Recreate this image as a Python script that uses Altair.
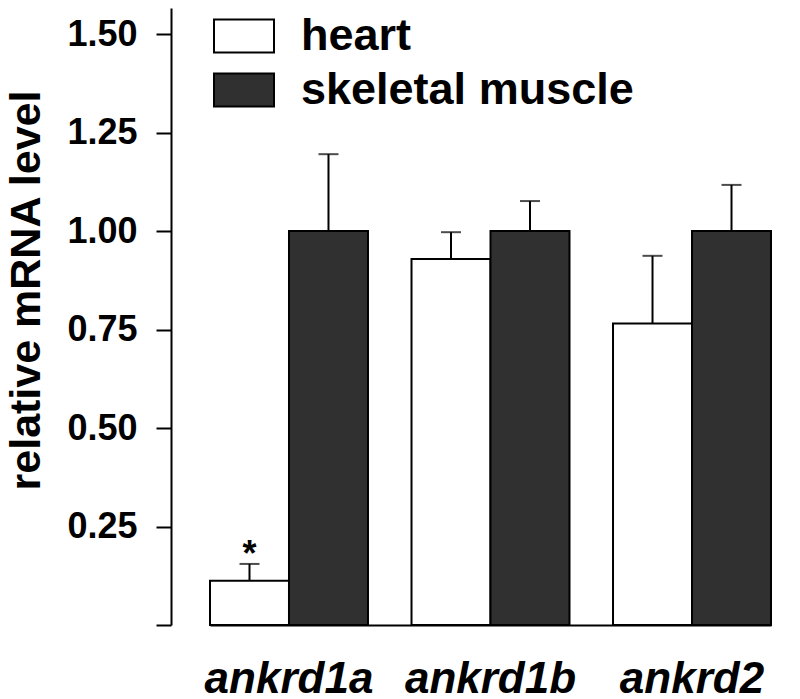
import altair as alt
import pandas as pd

genes = ["ankrd1a", "ankrd1b", "ankrd2"]
tissues = ["heart", "skeletal muscle"]
heart_vals = [0.112, 0.929, 0.765]
heart_err = [0.043, 0.068, 0.172]
muscle_vals = [1.0, 1.0, 1.0]
muscle_err = [0.195, 0.076, 0.117]
star_gene = ["ankrd1a"]
star_tissue = ["heart"]
star_text = ["*"]

rows = []
for g, v, e in zip(genes, heart_vals, heart_err):
    rows.append({"gene": g, "tissue": "heart", "value": v, "top": v + e})
for g, v, e in zip(genes, muscle_vals, muscle_err):
    rows.append({"gene": g, "tissue": "skeletal muscle", "value": v, "top": v + e})
df = pd.DataFrame(rows)

star_rows = []
for g, t, s in zip(star_gene, star_tissue, star_text):
    r = df[(df.gene == g) & (df.tissue == t)].iloc[0]
    star_rows.append({"gene": g, "tissue": t, "top": r["top"], "label": s})
sdf = pd.DataFrame(star_rows)

FONT = "Liberation Sans"

xscale = alt.Scale(domain=genes, range=[39, 600], paddingInner=0.216, paddingOuter=0)
yscale = alt.Scale(domain=[0, 1.566], nice=False, zero=True)

x_enc = alt.X("gene:N", scale=xscale, sort=genes,
              axis=alt.Axis(title=None, ticks=False, labelAngle=0, labelFont=FONT,
                            labelFontSize=44, labelFontWeight="bold", labelFontStyle="italic",
                            labelColor="black", labelPadding=54, domainColor="black",
                            domainWidth=2, bandPosition=0.5, labelAlign="center"))
xoff = alt.XOffset("tissue:N", scale=alt.Scale(domain=tissues, paddingInner=0, paddingOuter=0))

bars = alt.Chart(df).mark_bar(stroke="black", strokeWidth=2, opacity=1).encode(
    x=x_enc,
    xOffset=xoff,
    y=alt.Y("value:Q", scale=yscale,
            axis=alt.Axis(title="relative mRNA level", values=[0, 0.25, 0.5, 0.75, 1.0, 1.25, 1.5],
                          labelExpr="datum.value == 0 ? '' : format(datum.value, '.2f')",
                          labelFont=FONT, labelFontSize=36, labelFontWeight="bold",
                          labelColor="black", labelPadding=19, tickSize=15, tickWidth=2,
                          tickColor="black", domainColor="black", domainWidth=2, grid=False,
                          titleFont=FONT, titleFontSize=43, titleFontWeight="bold",
                          titleColor="black", titleAngle=270, titleAlign="center",
                          titleBaseline="alphabetic", titleX=-132, titleY=282)),
    fill=alt.Fill("tissue:N", scale=alt.Scale(domain=tissues, range=["white", "#303030"]),
                  legend=alt.Legend(title=None, orient="none", legendX=42, legendY=-3,
                                    symbolType="M-1,-0.55H1V0.55H-1Z", symbolSize=3600,
                                    symbolStrokeColor="black", symbolStrokeWidth=2,
                                    symbolOpacity=1, labelFont=FONT, labelFontSize=45,
                                    labelFontWeight="bold", labelColor="black",
                                    labelOffset=26, rowPadding=-1, padding=0,
                                    labelLimit=600)),
)

err = alt.Chart(df).mark_rule(color="black", strokeWidth=2).encode(
    x=alt.X("gene:N", scale=xscale, sort=genes),
    xOffset=xoff,
    y=alt.Y("value:Q", scale=yscale),
    y2="top:Q",
)

caps = alt.Chart(df).mark_tick(color="black", thickness=2, size=20, orient="horizontal").encode(
    x=alt.X("gene:N", scale=xscale, sort=genes),
    xOffset=xoff,
    y=alt.Y("top:Q", scale=yscale),
)

stars = alt.Chart(sdf).mark_text(font=FONT, fontSize=36, fontWeight="bold", color="black",
                                 baseline="alphabetic", dy=2).encode(
    x=alt.X("gene:N", scale=xscale, sort=genes),
    xOffset=xoff,
    y=alt.Y("top:Q", scale=yscale),
    text="label:N",
)

chart = alt.layer(err, bars, caps, stars).properties(
    width=621, height=617,
    autosize=alt.AutoSizeParams(type="none"),
    padding={"left": 163, "top": 0, "right": 0, "bottom": 74},
).configure_view(stroke=None)

chart.save("out.html", embed_options={"renderer": "svg", "actions": False})
